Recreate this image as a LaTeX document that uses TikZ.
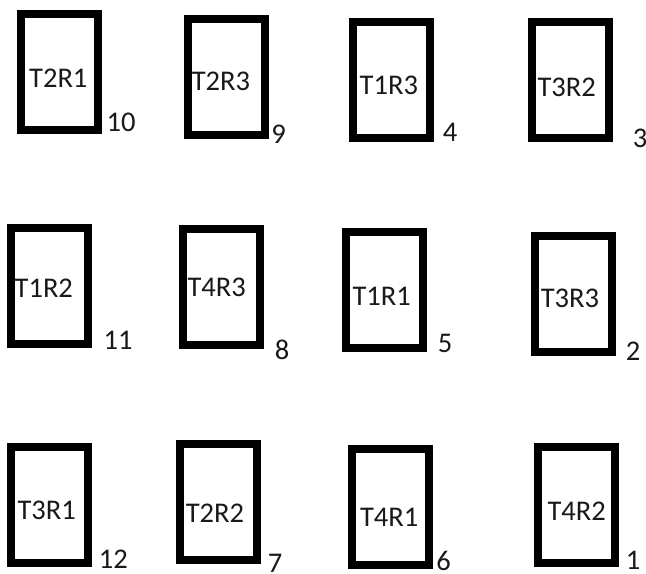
\documentclass[tikz,border=0pt]{standalone}
\usepackage{fontspec}
\setmainfont{Carlito}
\usepackage{tikz}
\usetikzlibrary{positioning}

\begin{document}
\begin{tikzpicture}[x=0.75pt,y=-0.75pt,
  slot/.style={rectangle,draw=black,line width=6pt,minimum width=57.75pt,minimum height=87pt,inner sep=0pt},
  tag/.style={inner sep=0pt,font=\fontsize{21.4pt}{24pt}\selectfont,text=black!90},
  num/.style={inner sep=0pt,font=\fontsize{21.4pt}{24pt}\selectfont,text=black!90}]
\useasboundingbox (0,0) rectangle (646,574);
\node[slot] (box10) at (59.5,72.3) {};
\node[slot] (box9) at (226,76.7) {};
\node[slot] (box4) at (391,80.3) {};
\node[slot] (box3) at (570.2,80.3) {};
\node[slot] (box11) at (49.8,285.7) {};
\node[slot] (box8) at (221.2,287.3) {};
\node[slot] (box5) at (384.8,290.3) {};
\node[slot] (box2) at (573.3,293.7) {};
\node[slot] (box12) at (49.8,505.3) {};
\node[slot] (box7) at (218.2,502) {};
\node[slot] (box6) at (390.8,506.7) {};
\node[slot] (box1) at (576.7,505) {};
\node[tag] (lab10) at (58.3,78.7) {T2R1};
\node[tag] (lab9) at (221,81.7) {T2R3};
\node[tag] (lab4) at (388.8,85.5) {T1R3};
\node[tag] (lab3) at (566.7,87) {T3R2};
\node[tag] (lab11) at (43.8,288.7) {T1R2};
\node[tag] (lab8) at (216.7,287) {T4R3};
\node[tag] (lab5) at (381.7,296.2) {T1R1};
\node[tag] (lab2) at (570,298.3) {T3R3};
\node[tag] (lab12) at (46.7,510.8) {T3R1};
\node[tag] (lab7) at (215,513) {T2R2};
\node[tag] (lab6) at (389.2,517.8) {T4R1};
\node[tag] (lab1) at (576.7,510.8) {T4R2};
\node[num] (num10) at (121,122.5) {10};
\node[num] (num9) at (278.5,134.5) {9};
\node[num] (num4) at (450,132.5) {4};
\node[num] (num3) at (640,138.3) {3};
\node[num] (num11) at (118,340.3) {11};
\node[num] (num8) at (282,350.3) {8};
\node[num] (num5) at (445,343) {5};
\node[num] (num2) at (633,351) {2};
\node[num] (num12) at (113.3,559) {12};
\node[num] (num7) at (275,563.5) {7};
\node[num] (num6) at (443.7,561) {6};
\node[num] (num1) at (633,560) {1};
\end{tikzpicture}
\end{document}
